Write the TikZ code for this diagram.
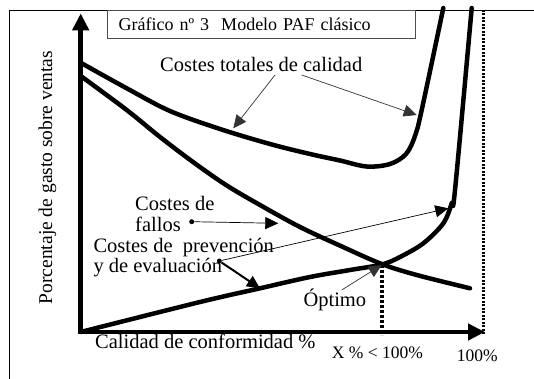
\documentclass[tikz,border=0pt]{standalone}
\usepackage{fontspec}
\setmainfont{Liberation Serif}
\usetikzlibrary{arrows.meta,positioning}
\tikzset{
%Define standard arrow tip
>={Triangle[length=13pt,width=12pt]},
%Define style for different line styles
axis/.style={<->, line width=4.5pt, >={Triangle[length=17pt,width=16pt]}},
cost line/.style={line width=4.5pt, line join=round, line cap=round},
pointer/.style={->, line width=0.7pt},
thick pointer/.style={->, line width=2pt},
help lines/.style={dash pattern=on 3pt off 2pt, line width=4pt},
limit line/.style={dash pattern=on 2pt off 1.5pt, line width=2.5pt},
%Text styles
costlabel/.style={inner sep=0pt, anchor=base west, font=\fontsize{20.5}{24}\selectfont},
ticklabel/.style={inner sep=0pt, anchor=base west, font=\fontsize{17.5}{21}\selectfont},
bullet/.style={circle, fill, inner sep=0pt, minimum size=5pt},
}

\begin{document}
\begin{tikzpicture}[x=1pt, y=-1pt]
    \useasboundingbox (0,0) rectangle (534,379);
    %Frame
    \draw[line width=0.8pt] (9,379) -- (9,10) -- (534,10);
    \node[draw=black!70, line width=0.8pt, anchor=north west, minimum height=28.3pt,
      text width=285pt, inner xsep=11.6pt, inner ysep=0pt, align=left,
      font=\fontsize{18}{21}\selectfont] (title) at (106.7,10)
      {Gráfico nº 3~ Modelo PAF clásico};

    %Draw axis
    \coordinate (yTip) at (80.7,13.3);
    \coordinate (orig) at (80.7,332);
    \coordinate (xTip) at (485,332);
    \draw[axis] (yTip) -- (orig) -- (xTip);

    %Important coordinates
    %% optimum and 100% on the x axis
    \coordinate (opt) at (381.7,265);
    \coordinate (optX) at (381.7,335);
    \coordinate (fullTop) at (483.3,10);
    \coordinate (fullX) at (483.3,335);
    \draw[help lines] (opt) -- (optX);
    \draw[limit line] (fullTop) -- (fullX);

    %Total costs
    \draw[cost line] plot[smooth, tension=0.55] coordinates {(81.7,63.3) (126.7,88.3)
      (170,111) (220,129) (270,144) (310,154) (340,160.5) (366.7,166.5)
      (390,164) (406,154) (415,136) (421.7,110) (443.3,8)};
    %Failure costs
    \draw[cost line] plot[smooth, tension=0.55] coordinates {(81.7,76.7) (126.7,110)
      (160,137) (193,162) (226,185) (260,205) (300,227) (343,247) (381.7,264)
      (416.7,275) (470,288.3)};
    %Prevention and appraisal costs
    \draw[cost line] plot[smooth, tension=0.55] coordinates {(80.7,332) (200,302)
      (260,288.3) (310,277) (350,270) (381.7,264.5) (400,257) (423.3,243.3)
      (443.3,223.3) (451.7,203.3) (455,190) (471.7,8)};

    %Labels
    \node[costlabel] (total) at (160,71.7) {Costes totales de calidad};
    \node[costlabel] (fallosA) at (135,210.7) {Costes de};
    \node[costlabel] (fallosB) at (135,231.8) {fallos};
    \node[costlabel] (prevA) at (93.3,252.7) {Costes de~ prevención};
    \node[costlabel] (prevB) at (93.3,272.2) {y de evaluación};
    \node[costlabel] (optimo) at (303.3,306.7) {Óptimo};
    \node[costlabel] (quality) at (95,348.3) {Calidad de conformidad \%};
    \node[ticklabel] (xval) at (331.7,358.3) {X \% < 100\%};
    \node[ticklabel] (full) at (456.7,361.7) {100\%};
    \node[rotate=90, inner sep=0pt, font=\fontsize{19.5}{23}\selectfont] (ylab)
      at (47.5,177.5) {Porcentaje de gasto sobre ventas};

    %Pointers
    \coordinate (totStartA) at (275,75);
    \coordinate (totTipA) at (233.3,128.3);
    \coordinate (totStartB) at (301.7,75);
    \coordinate (totTipB) at (416.7,115);
    \draw[pointer, black!80] (totStartA) -- (totTipA);
    \draw[pointer, black!80] (totStartB) -- (totTipB);

    \node[bullet] (fdot) at (191.7,221.7) {};
    \coordinate (fTip) at (278.3,223.3);
    \draw[pointer] (fdot) -- (fTip);

    \node[bullet] (pdot) at (219.3,261) {};
    \coordinate (pTipHigh) at (448.3,208.3);
    \coordinate (pTipLow) at (260,288.3);
    \draw[pointer] (pdot) -- (pTipHigh);
    \draw[thick pointer] (pdot) -- (pTipLow);

    \coordinate (optStart) at (341.7,290);
    \draw[pointer, black!80] (optStart) -- (opt);
\end{tikzpicture}
\end{document}
